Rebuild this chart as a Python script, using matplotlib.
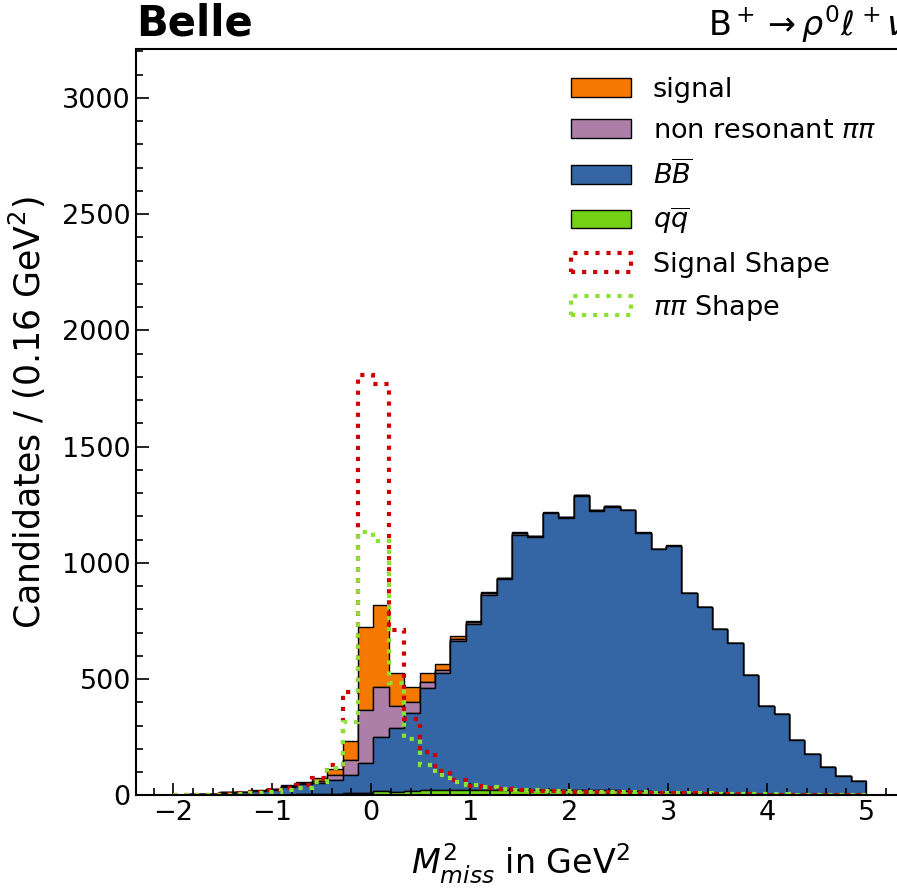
import numpy as np
import matplotlib
matplotlib.use('Agg')
import matplotlib.pyplot as plt
from matplotlib.ticker import MultipleLocator

# binning: 45 bins between -2 and 5 GeV^2
bin_edges = np.linspace(-2, 5, 46)
bin_centers = 0.5 * (bin_edges[1:] + bin_edges[:-1])

# candidates per bin
qq = [0, 1, 1, 2, 2, 3, 3, 4, 5, 6, 8, 10, 12, 18, 16, 20, 22, 22, 22, 25, 25, 24, 23,
      22, 22, 22, 22, 23, 22, 20, 18, 16, 14, 12, 10, 9, 8, 6, 5, 4, 3, 3, 2, 2, 1]
bb = [3, 4, 5, 10, 12, 15, 22, 34, 45, 49, 58, 77, 129, 235, 276, 336, 441, 504, 641,
      712, 838, 907, 1098, 1088, 1192, 1173, 1267, 1202, 1220, 1206, 1112, 1042, 1060,
      858, 801, 705, 646, 510, 379, 347, 237, 177, 121, 82, 61]
nonres = [0, 0, 1, 1, 1, 2, 2, 3, 3, 9, 24, 66, 227, 215, 92, 45, 24, 14, 10, 8, 6, 3,
          6, 4, 2, 1, 1, 1, 1, 0, 0, 0, 0, 0, 0, 0, 0, 0, 0, 0, 0, 0, 0, 0, 0]
signal = [1, 1, 1, 1, 2, 3, 3, 4, 6, 13, 26, 83, 358, 352, 142, 67, 39, 25, 12, 7, 7, 3,
          4, 3, 2, 1, 2, 1, 1, 1, 1, 1, 1, 1, 1, 1, 1, 0, 0, 0, 0, 0, 0, 0, 0]

# normalised shapes (dotted outlines)
signal_shape = [2, 3, 4, 6, 9, 14, 22, 32, 46, 74, 133, 444, 1809, 1769, 712, 330, 189,
                107, 68, 42, 32, 26, 22, 20, 18, 17, 16, 15, 14, 13, 12, 11, 10, 9, 8,
                7, 6, 5, 4, 4, 3, 3, 2, 2, 1]
pipi_shape = [1, 2, 3, 4, 6, 9, 14, 22, 34, 58, 118, 318, 1135, 1095, 482, 245, 131, 88,
              59, 45, 35, 27, 24, 22, 20, 18, 17, 16, 15, 14, 13, 12, 11, 10, 9, 8, 7, 6,
              5, 5, 4, 4, 3, 3, 2]

colors = {'signal': '#f57900', 'nonres': '#ad7fa8', 'bb': '#3465a4', 'qq': '#73d216',
          'signal_shape': '#cc0000', 'pipi_shape': '#8ae234'}

fig = plt.figure(figsize=(8.97, 8.90), dpi=100)
# the original figure is cut off on the right, so the axes run past the edge
ax = fig.add_axes([0.1513, 0.1062, 0.8583, 0.8388])

_, _, stack = ax.hist([bin_centers] * 4, bins=bin_edges,
                      weights=[qq, bb, nonres, signal], stacked=True,
                      histtype='stepfilled',
                      color=[colors['qq'], colors['bb'], colors['nonres'], colors['signal']],
                      edgecolor='black', linewidth=1.0)

_, _, sig_step = ax.hist(bin_centers, bins=bin_edges, weights=signal_shape,
                         histtype='step', linestyle=':', linewidth=3,
                         color=colors['signal_shape'])
_, _, pipi_step = ax.hist(bin_centers, bins=bin_edges, weights=pipi_shape,
                          histtype='step', linestyle=':', linewidth=3,
                          color=colors['pipi_shape'])

ax.set_xlim(-2.38, 5.4)
ax.set_ylim(0, 3210)

ax.xaxis.set_major_locator(MultipleLocator(1))
ax.xaxis.set_minor_locator(MultipleLocator(0.2))
ax.yaxis.set_major_locator(MultipleLocator(500))
ax.yaxis.set_minor_locator(MultipleLocator(100))
ax.tick_params(which='both', direction='in', top=False, right=False, labelsize=19.5, width=1.2)
ax.tick_params(which='major', length=9)
ax.tick_params(which='minor', length=5)
for sp in ax.spines.values():
    sp.set_linewidth(1.5)

ax.set_xlabel(r'$M_{miss}^2$ in GeV$^2$', fontsize=24, labelpad=11)
ax.set_ylabel(r'Candidates / (0.16 GeV$^2$)', fontsize=25)
ax.yaxis.set_label_coords(-0.114, 0.513)

ax.text(0.0, 1.0174, 'Belle', transform=ax.transAxes, fontsize=30,
        fontweight='bold', ha='left', va='baseline')
ax.text(1.0, 1.0174, r'B$^+\rightarrow\rho^0\ell^+\nu$', transform=ax.transAxes,
        fontsize=24, ha='right', va='baseline')

handles = [stack[3][0], stack[2][0], stack[1][0], stack[0][0], sig_step[0], pipi_step[0]]
labels = ['signal', r'non resonant $\pi\pi$', r'$B\overline{B}$', r'$q\overline{q}$',
          'Signal Shape', r'$\pi\pi$ Shape']
ax.legend(handles, labels, loc='upper left', bbox_to_anchor=(0.566, 0.963),
          frameon=False, fontsize=19.5, handlelength=2.2, handletextpad=0.8,
          labelspacing=0.56, borderpad=0, borderaxespad=0)

fig.savefig('out.png', dpi=100)
